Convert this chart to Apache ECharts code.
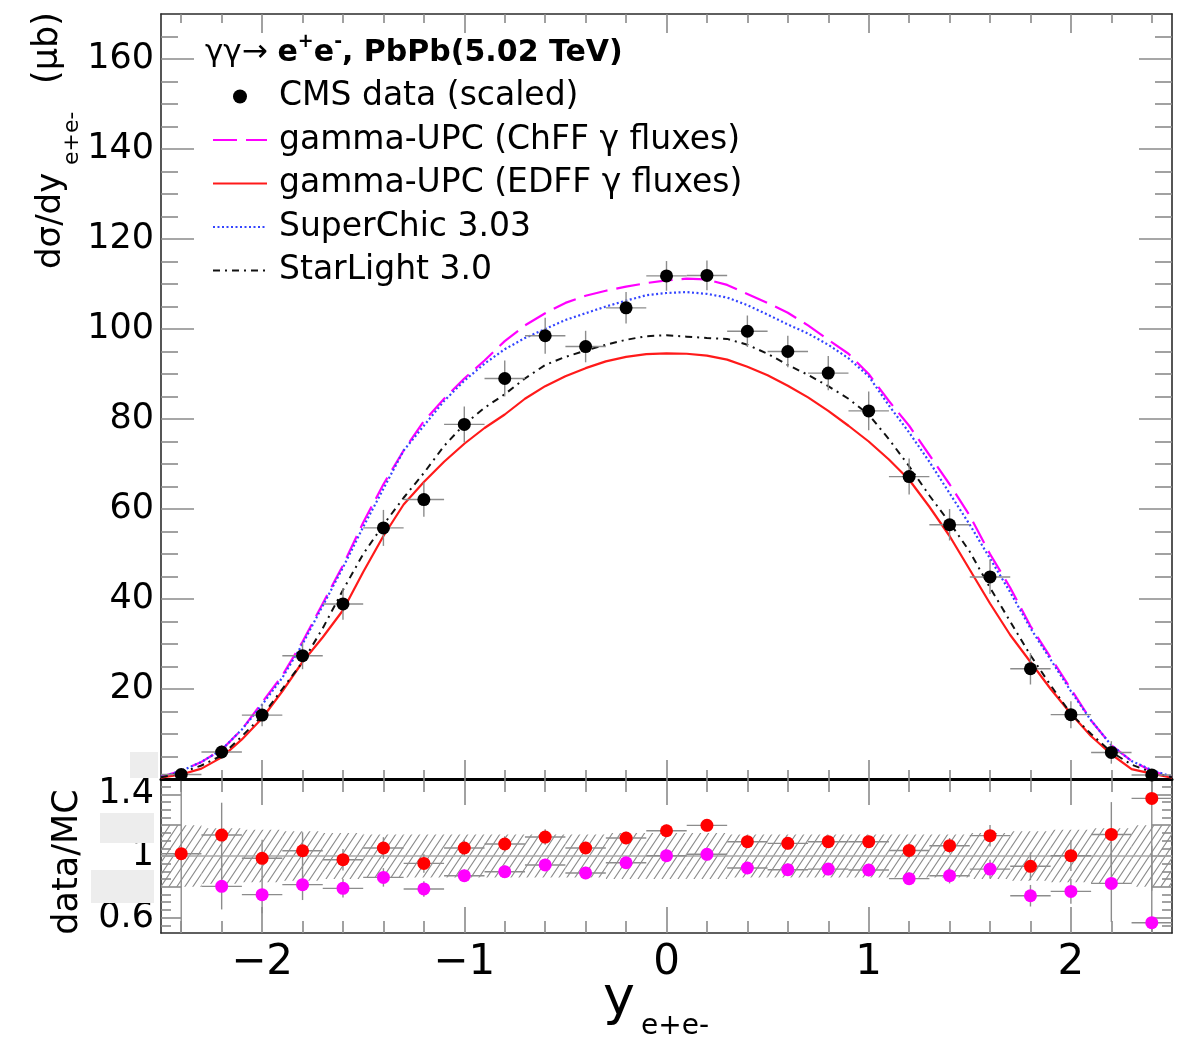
<!DOCTYPE html>
<html><head><meta charset="utf-8">
<script src="https://cdn.jsdelivr.net/npm/echarts@6/dist/echarts.min.js"></script>
<style>html,body{margin:0;padding:0;background:#fff;}#c{width:1181px;height:1039px;}</style>
</head><body><div id="c"></div>
<script>
// ---------------- data ----------------
const binCenters = [-2.4,-2.2,-2.0,-1.8,-1.6,-1.4,-1.2,-1.0,-0.8,-0.6,-0.4,-0.2,0.0,0.2,0.4,0.6,0.8,1.0,1.2,1.4,1.6,1.8,2.0,2.2,2.4];
const binHalfWidth = 0.1;
const cmsData = [1.0,6.0,14.2,27.4,38.9,55.8,62.1,78.8,89.0,98.5,96.1,104.7,111.8,111.9,99.5,95.0,90.2,81.8,67.2,56.5,44.9,24.5,14.3,5.9,0.9];
const cmsErr  = [0.8,1.5,2.5,3.0,3.5,4.0,3.8,4.0,4.0,4.0,3.5,3.5,3.3,3.3,3.5,3.5,3.8,4.3,4.0,3.5,3.8,3.5,3.0,2.5,1.0];

const curveX = [-2.5,-2.4,-2.3,-2.2,-2.1,-2.0,-1.9,-1.8,-1.7,-1.6,-1.5,-1.4,-1.3,-1.2,-1.1,-1.0,-0.9,-0.8,-0.7,-0.6,-0.5,-0.4,-0.3,-0.2,-0.1,0.0,0.1,0.2,0.3,0.4,0.5,0.6,0.7,0.8,0.9,1.0,1.1,1.2,1.3,1.4,1.5,1.6,1.7,1.8,1.9,2.0,2.1,2.2,2.3,2.4,2.5];
const chffCurve = [0.5,1.8,3.8,6.5,11,17,23,30.5,39,47.5,57,65.5,73,79.5,84.5,89,93,97.3,100.8,103.5,105.8,107.4,108.5,109.4,110.2,110.8,111.2,111.0,109.8,107.8,105.8,103.6,100.8,97.6,94.5,90,84,78.5,72,65.5,58.5,50,42.5,34,27,20,13,7.5,4,1.8,0.4];
const edffCurve = [0.3,1.0,2.3,4.8,8.8,13.5,19.5,26,31.5,37.5,46,54,61,66,70.5,74.5,78,81,84.5,87.3,89.5,91.3,92.8,93.8,94.4,94.6,94.5,94.1,93.2,91.6,89.7,87.4,84.8,81.8,78.5,75,71,66.5,60.5,54,46.5,39,32,26,20,14.5,9.5,5.5,2.2,1.2,0.3];
const superchicCurve = [0.5,1.8,3.8,6.5,11,16.5,22.5,30,38.5,47,56,64.5,73,78.5,84,88.5,92.3,95.5,98,100,102,103.5,105,106.3,107.5,108,108.2,107.8,107,105.3,103.2,101,99,96.5,93.5,89.5,83,77,70.5,63.5,56.5,49,41.5,33.5,26.5,19.5,13,7.5,4,2,0.5];
const starlightCurve = [0.4,1.4,3,5.2,9.5,14,20,26,33.5,42,50,56.5,62.5,68,74,78.8,82.5,85.5,89,92,93.8,95.2,96.5,97.6,98.4,98.6,98.3,98,97.8,96.5,94.5,92,89.8,87.3,84.5,81,75.5,69.5,63,57,50.5,42.5,35,27.5,20.8,14.5,10,6,3.2,1.5,0.4];

const ratioEdff    = [1.015,1.136,0.985,1.034,0.976,1.052,0.952,1.052,1.078,1.123,1.052,1.117,1.164,1.199,1.093,1.082,1.093,1.093,1.036,1.067,1.132,0.933,1.002,1.140,1.374];
const ratioEdffErr = [0.6,0.21,0.12,0.12,0.07,0.07,0.06,0.05,0.05,0.05,0.04,0.04,0.04,0.04,0.04,0.04,0.04,0.04,0.05,0.05,0.07,0.09,0.10,0.21,0.6];
const ratioChff    = [null,0.803,0.749,0.814,0.790,0.861,0.786,0.872,0.898,0.942,0.890,0.956,1.002,1.011,0.922,0.911,0.915,0.909,0.853,0.872,0.915,0.742,0.770,0.822,0.567];
const ratioChffErr = [null,0.15,0.12,0.10,0.06,0.06,0.05,0.04,0.04,0.04,0.04,0.04,0.04,0.04,0.04,0.04,0.04,0.04,0.04,0.05,0.06,0.07,0.08,0.25,0.5];
const bandLow  = [0.80,0.82,0.83,0.84,0.85,0.86,0.86,0.86,0.86,0.86,0.86,0.85,0.85,0.85,0.86,0.86,0.86,0.86,0.86,0.86,0.85,0.84,0.83,0.82,0.80];
const bandHigh = [1.20,1.18,1.17,1.16,1.15,1.14,1.14,1.14,1.14,1.14,1.14,1.15,1.15,1.15,1.14,1.14,1.14,1.14,1.14,1.14,1.15,1.16,1.17,1.18,1.20];

const xMajorTicks = [-2,-1,0,1,2];
const xMinorTicks = [-2.4,-2.2,-1.8,-1.6,-1.4,-1.2,-0.8,-0.6,-0.4,-0.2,0.2,0.4,0.6,0.8,1.2,1.4,1.6,1.8,2.2,2.4];
const yMajorTicks = [20,40,60,80,100,120,140,160];
const yMinorTicks = [5,10,15,25,30,35,45,50,55,65,70,75,85,90,95,105,110,115,125,130,135,145,150,155,165];
const yLabelTicks = [20,40,60,80,100,120,140,160];
const rMajorTicks = [0.6,0.8,1.0,1.2,1.4];
const rMinorTicks = [0.55,0.65,0.7,0.75,0.85,0.9,0.95,1.05,1.1,1.15,1.25,1.3,1.35,1.45];
const rLabelTicks = [0.6,1.0,1.4];

const legendNames = ['CMS data (scaled)','gamma-UPC (ChFF \u03b3 fluxes)','gamma-UPC (EDFF \u03b3 fluxes)','SuperChic 3.03','StarLight 3.0'];

// ---------------- helpers ----------------
const F = 'DejaVu Sans';
const zip = (xs, ys) => xs.map((x, i) => [x, ys[i]]);
const errRows = (vals, errs) => binCenters.map((x, i) => vals[i] == null ? null : [x, vals[i], errs[i], binHalfWidth]).filter(r => r);

const hatch = document.createElement('canvas');
hatch.width = 8; hatch.height = 12;
(function(){const g = hatch.getContext('2d'); g.strokeStyle = '#8a8a8a'; g.lineWidth = 1.1;
 g.beginPath(); g.moveTo(0,12); g.lineTo(8,0); g.moveTo(-1,1.5); g.lineTo(1,-1.5); g.moveTo(7,13.5); g.lineTo(9,10.5); g.stroke();})();

function errRender(params, api) {
  const x = api.value(0), y = api.value(1), e = api.value(2), hw = api.value(3);
  const l = api.coord([x - hw, y]), r = api.coord([x + hw, y]);
  const t = api.coord([x, y + e]), b = api.coord([x, y - e]);
  const st = {stroke: '#8c8c8c', lineWidth: 1.4};
  return {type: 'group', children: [
    {type: 'line', shape: {x1: l[0], y1: l[1], x2: r[0], y2: r[1]}, style: st},
    {type: 'line', shape: {x1: t[0], y1: t[1], x2: b[0], y2: b[1]}, style: st}
  ]};
}
function bandRender(params, api) {
  const x = api.value(0), lo = api.value(1), hi = api.value(2), hw = api.value(3);
  const p1 = api.coord([x - hw, hi]), p2 = api.coord([x + hw, lo]);
  return {type: 'rect', shape: {x: p1[0], y: p1[1], width: p2[0] - p1[0], height: p2[1] - p1[1]},
          style: {fill: {image: hatch, repeat: 'repeat'}}};
}

const AX = '#2b2b2b', TK = '#8a8a8a';
function xAx(grid, pos, ticks, len, lineShow, lineW, labels) {
  return {type: 'value', gridIndex: grid, position: pos, min: -2.5, max: 2.5,
    axisLine: {show: lineShow, onZero: false, lineStyle: {color: lineW > 2 ? '#000' : AX, width: lineW}},
    axisTick: {show: true, inside: true, length: len, customValues: ticks, lineStyle: {color: TK, width: 1.6}},
    axisLabel: labels ? {show: true, customValues: xMajorTicks, margin: 9, fontFamily: F, fontSize: 42, color: '#000',
      formatter: v => String(v).replace('-', '\u2212')} : {show: false},
    splitLine: {show: false}};
}
function yAx(grid, pos, min, max, ticks, len, lineShow, labelTicks, fmt, pad) {
  return {type: 'value', gridIndex: grid, position: pos, min: min, max: max,
    axisLine: {show: lineShow, onZero: false, lineStyle: {color: AX, width: 1.6}},
    axisTick: {show: true, inside: true, length: len, customValues: ticks, lineStyle: {color: TK, width: 1.6}},
    axisLabel: labelTicks ? {show: true, customValues: labelTicks, margin: 7, fontFamily: F, fontSize: 35, color: '#000', formatter: fmt,
      padding: [pad || 0, 0, 0, 0]} : {show: false},
    splitLine: {show: false}};
}
const noSym = {color: 'rgba(0,0,0,0)', opacity: 0, borderWidth: 0};

const option = {
  animation: false,
  backgroundColor: '#fff',
  grid: [
    {left: 161, top: 14, width: 1011, height: 765},
    {left: 161, top: 779, width: 1011, height: 154}
  ],
  xAxis: [
    xAx(0, 'bottom', xMajorTicks, 19, true, 3, false),
    xAx(0, 'bottom', xMinorTicks, 9, false, 1, false),
    xAx(0, 'top', xMajorTicks, 19, true, 1.6, false),
    xAx(0, 'top', xMinorTicks, 9, false, 1, false),
    xAx(1, 'bottom', xMajorTicks, 26, true, 1.6, true),
    xAx(1, 'bottom', xMinorTicks, 12, false, 1, false),
    xAx(1, 'top', xMajorTicks, 26, false, 1, false),
    xAx(1, 'top', xMinorTicks, 13, false, 1, false)
  ],
  yAxis: [
    yAx(0, 'left', 0, 170, yMajorTicks, 33, true, yLabelTicks, v => String(v), 6),
    yAx(0, 'left', 0, 170, yMinorTicks, 17, false, null),
    yAx(0, 'right', 0, 170, yMajorTicks, 33, true, null),
    yAx(0, 'right', 0, 170, yMinorTicks, 17, false, null),
    yAx(1, 'left', 0.5, 1.5, rMajorTicks, 20, true, rLabelTicks, v => (Math.abs(v - 1) < 1e-9 ? '1' : String(v)), 8),
    yAx(1, 'left', 0.5, 1.5, rMinorTicks, 10, false, null),
    yAx(1, 'right', 0.5, 1.5, rMajorTicks, 20, true, null),
    yAx(1, 'right', 0.5, 1.5, rMinorTicks, 10, false, null)
  ],
  legend: {
    orient: 'vertical', left: 212, top: 80, padding: 0,
    itemWidth: 54, itemHeight: 14, itemGap: 10.5, selectedMode: false,
    textStyle: {fontFamily: F, fontSize: 33, color: '#000', padding: [0, 0, 0, 7]},
    data: [
      {name: legendNames[0], icon: 'circle', itemStyle: {color: '#000', opacity: 1}},
      {name: legendNames[1], itemStyle: noSym},
      {name: legendNames[2], itemStyle: noSym},
      {name: legendNames[3], itemStyle: noSym},
      {name: legendNames[4], itemStyle: noSym}
    ]
  },
  graphic: [
    {type: 'rect', shape: {x: 130, y: 752, width: 28, height: 26}, style: {fill: '#ededed'}, z: 1},
    {type: 'rect', shape: {x: 100, y: 813, width: 54, height: 30}, style: {fill: '#ededed'}, z: 1},
    {type: 'rect', shape: {x: 91, y: 870, width: 63, height: 33}, style: {fill: '#ededed'}, z: 1},
    {type: 'text', x: 205, y: 53, z: 10, style: {
      text: '{n|\u03b3\u03b3\u2192 }{b|e}{s|+}{b|e}{s|-}{b|, PbPb(5.02 TeV)}',
      verticalAlign: 'middle', align: 'left',
      rich: {
        n: {fontFamily: F, fontSize: 31, color: '#000', lineHeight: 40, verticalAlign: 'middle'},
        b: {fontFamily: F, fontSize: 30, fontWeight: 'bold', color: '#000', lineHeight: 40, verticalAlign: 'middle'},
        s: {fontFamily: F, fontSize: 19, fontWeight: 'bold', color: '#000', lineHeight: 40, verticalAlign: 'top'}
      }}},
    {type: 'text', x: 51, y: 269, rotation: Math.PI / 2, style: {text: 'd\u03c3/dy', fontFamily: F, fontSize: 34, fill: '#000', align: 'left', verticalAlign: 'middle'}},
    {type: 'text', x: 72, y: 165, rotation: Math.PI / 2, style: {text: 'e+e-', fontFamily: F, fontSize: 22, fill: '#000', align: 'left', verticalAlign: 'middle'}},
    {type: 'text', x: 48, y: 84, rotation: Math.PI / 2, style: {text: '(\u03bcb)', fontFamily: F, fontSize: 35, fill: '#000', align: 'left', verticalAlign: 'middle'}},
    {type: 'text', x: 68, y: 862, rotation: Math.PI / 2, style: {text: 'data/MC', fontFamily: F, fontSize: 35, fill: '#000', align: 'center', verticalAlign: 'middle'}},
    {type: 'text', x: 603, y: 1000, style: {text: 'y', fontFamily: F, fontSize: 54, fill: '#000', align: 'left', verticalAlign: 'middle'}},
    {type: 'text', x: 641, y: 1027, style: {text: 'e+e-', fontFamily: F, fontSize: 28, fill: '#000', align: 'left', verticalAlign: 'middle'}}
  ],
  series: [
    {name: legendNames[1], type: 'line', xAxisIndex: 0, yAxisIndex: 0, data: zip(curveX, chffCurve), showSymbol: false, symbol: 'none',
      lineStyle: {color: '#ff00ff', width: 2.2, type: [24, 9]}, itemStyle: {color: '#ff00ff'}, z: 3},
    {name: legendNames[2], type: 'line', xAxisIndex: 0, yAxisIndex: 0, data: zip(curveX, edffCurve), showSymbol: false, symbol: 'none',
      lineStyle: {color: '#ff1a1a', width: 2.2, type: 'solid'}, itemStyle: {color: '#ff1a1a'}, z: 3},
    {name: legendNames[3], type: 'line', xAxisIndex: 0, yAxisIndex: 0, data: zip(curveX, superchicCurve), showSymbol: false, symbol: 'none',
      lineStyle: {color: '#3344ff', width: 2.2, type: [2, 2.5]}, itemStyle: {color: '#3344ff'}, z: 3},
    {name: legendNames[4], type: 'line', xAxisIndex: 0, yAxisIndex: 0, data: zip(curveX, starlightCurve), showSymbol: false, symbol: 'none',
      lineStyle: {color: '#111', width: 2, type: [7, 5, 2, 5]}, itemStyle: {color: '#111'}, z: 3},
    {name: 'cmsErr', type: 'custom', xAxisIndex: 0, yAxisIndex: 0, data: errRows(cmsData, cmsErr), renderItem: errRender, clip: true, z: 4, silent: true},
    {name: legendNames[0], type: 'scatter', xAxisIndex: 0, yAxisIndex: 0, data: zip(binCenters, cmsData), symbol: 'circle', symbolSize: 13,
      itemStyle: {color: '#000', opacity: 1}, z: 5},
    {name: 'band', type: 'custom', xAxisIndex: 4, yAxisIndex: 4, data: binCenters.map((x, i) => [x, bandLow[i], bandHigh[i], binHalfWidth]),
      renderItem: bandRender, clip: true, z: 2, silent: true},
    {name: 'ratioLine', type: 'line', xAxisIndex: 4, yAxisIndex: 4, data: [[-2.5, 1], [2.5, 1]], showSymbol: false, symbol: 'none',
      lineStyle: {color: '#a8a8a8', width: 1.6}, z: 2, silent: true},
    {name: 'ratioEdffErr', type: 'custom', xAxisIndex: 4, yAxisIndex: 4, data: errRows(ratioEdff, ratioEdffErr), renderItem: errRender, clip: true, z: 4, silent: true},
    {name: 'ratioChffErr', type: 'custom', xAxisIndex: 4, yAxisIndex: 4, data: errRows(ratioChff, ratioChffErr), renderItem: errRender, clip: true, z: 4, silent: true},
    {name: 'ratio EDFF', type: 'scatter', xAxisIndex: 4, yAxisIndex: 4, data: zip(binCenters, ratioEdff).filter(p => p[1] != null), symbolSize: 13,
      itemStyle: {color: '#ff0000', opacity: 1}, z: 5},
    {name: 'ratio ChFF', type: 'scatter', xAxisIndex: 4, yAxisIndex: 4, data: zip(binCenters, ratioChff).filter(p => p[1] != null), symbolSize: 13,
      itemStyle: {color: '#ff00ff', opacity: 1}, z: 5}
  ]
};
const chart = echarts.init(document.getElementById('c'), null, {renderer: 'canvas'});
chart.setOption(option);
</script></body></html>
